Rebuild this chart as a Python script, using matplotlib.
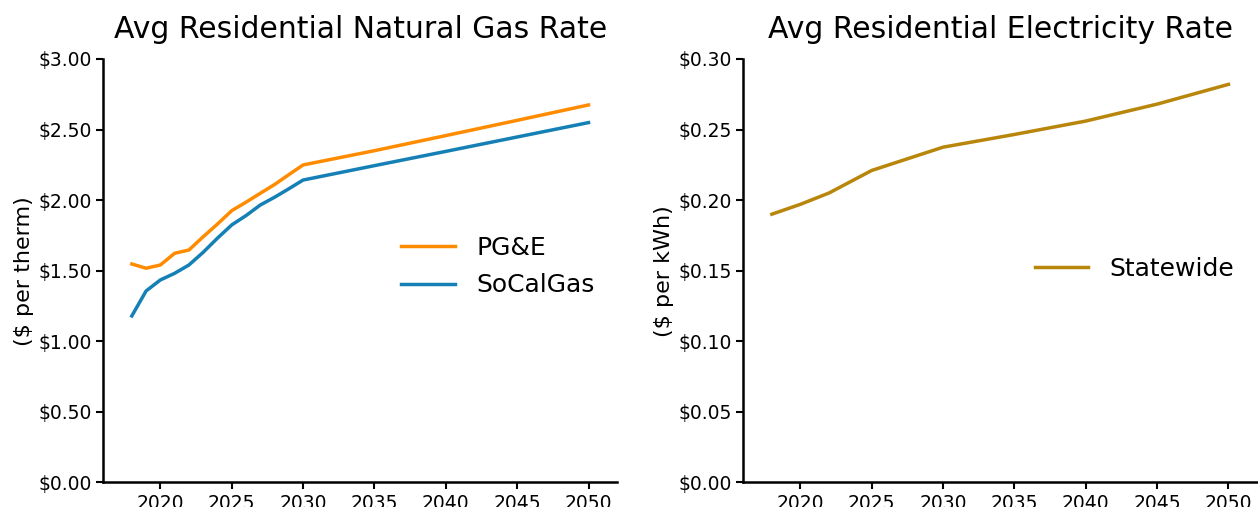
import matplotlib
matplotlib.use("Agg")
import matplotlib.pyplot as plt
from matplotlib.ticker import FuncFormatter

years_gas = [2018, 2019, 2020, 2021, 2022, 2023, 2024, 2025, 2026, 2027, 2028, 2029, 2030,
             2035, 2040, 2045, 2050]
pge = [1.547, 1.517, 1.540, 1.623, 1.646, 1.74, 1.83, 1.925, 1.985, 2.048, 2.11, 2.18, 2.249,
       2.35, 2.457, 2.565, 2.674]
socalgas = [1.179, 1.356, 1.434, 1.481, 1.540, 1.63, 1.73, 1.824, 1.89, 1.965, 2.02, 2.08, 2.142,
            2.244, 2.345, 2.447, 2.549]

years_elec = [2018, 2020, 2022, 2025, 2030, 2035, 2040, 2045, 2050]
statewide = [0.190, 0.197, 0.205, 0.221, 0.2375, 0.2465, 0.256, 0.268, 0.282]

C_PGE = "#ff8c00"
C_SCG = "#1580b6"
C_SW = "#b8860b"

fig = plt.figure(figsize=(12.58, 5.07), dpi=100)
ax1 = fig.add_axes([0.0821, 0.0487, 0.4084, 0.835])
ax2 = fig.add_axes([0.5909, 0.0487, 0.4083, 0.835])

ax1.plot(years_gas, pge, color=C_PGE, lw=2.5, label="PG&E")
ax1.plot(years_gas, socalgas, color=C_SCG, lw=2.5, label="SoCalGas")
ax2.plot(years_elec, statewide, color=C_SW, lw=2.5, label="Statewide")

for ax in (ax1, ax2):
    ax.set_xlim(2016, 2052)
    ax.set_xticks([2020, 2025, 2030, 2035, 2040, 2045, 2050])
    for s in ("top", "right"):
        ax.spines[s].set_visible(False)
    for s in ("left", "bottom"):
        ax.spines[s].set_linewidth(1.8)
        ax.spines[s].set_color("black")
    ax.tick_params(axis="both", labelsize=13.5, width=1.5, length=5, direction="out")

ax1.set_ylim(0, 3.0)
ax1.set_yticks([0, 0.5, 1.0, 1.5, 2.0, 2.5, 3.0])
ax1.yaxis.set_major_formatter(FuncFormatter(lambda v, p: f"${v:.2f}"))
ax1.set_ylabel("($ per therm)", fontsize=16, labelpad=3)
ax1.set_title("Avg Residential Natural Gas Rate", fontsize=21.5, pad=15)
ax1.legend(loc="center right", bbox_to_anchor=(1.0, 0.51), frameon=False, fontsize=18,
           handlelength=2.15, handletextpad=0.85, labelspacing=0.55)

ax2.set_ylim(0, 0.30)
ax2.set_yticks([0, 0.05, 0.10, 0.15, 0.20, 0.25, 0.30])
ax2.yaxis.set_major_formatter(FuncFormatter(lambda v, p: f"${v:.2f}"))
ax2.set_ylabel("($ per kWh)", fontsize=16, labelpad=3)
ax2.set_title("Avg Residential Electricity Rate", fontsize=21.5, pad=15)
ax2.legend(loc="center right", bbox_to_anchor=(1.0, 0.505), frameon=False, fontsize=18,
           handlelength=2.15, handletextpad=0.85)

fig.savefig("out.png", dpi=100)
